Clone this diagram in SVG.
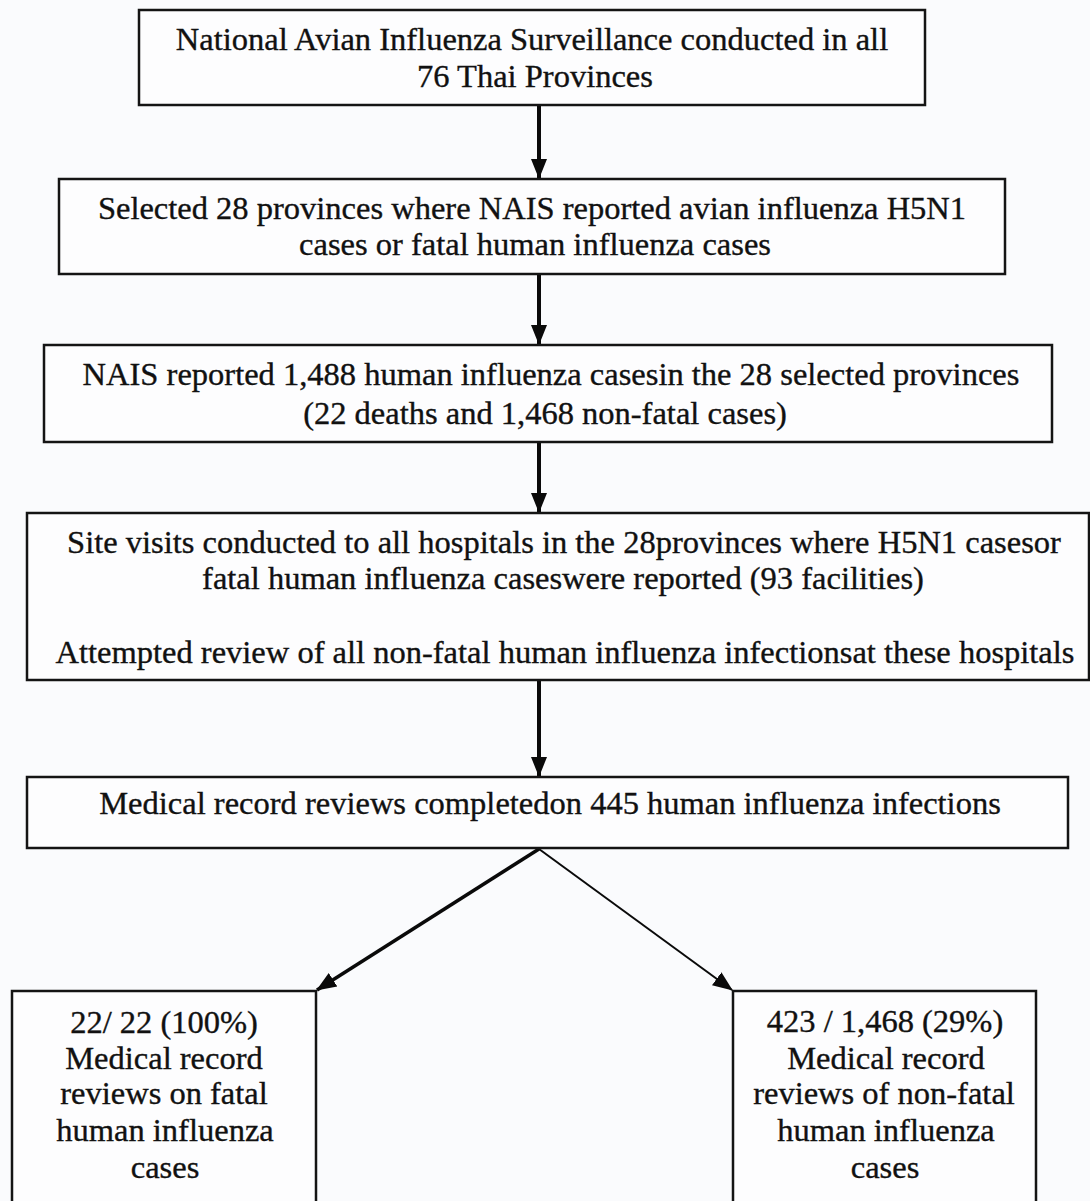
<svg xmlns="http://www.w3.org/2000/svg" width="1090" height="1201" viewBox="0 0 1090 1201">
<defs>
<style>
.box{fill:#fdfdfe;stroke:#141414;stroke-width:2.5}
.t{font-family:"Liberation Serif","Times New Roman",serif;font-size:32.5px;fill:#111;stroke:#111;stroke-width:0.35;text-anchor:middle}
.conn{stroke:#0a0a0a;fill:none}
</style>
<marker id="ah" markerUnits="userSpaceOnUse" markerWidth="20" markerHeight="18" refX="19" refY="8" orient="auto" viewBox="0 0 20 16">
<path d="M0,0 L20,8 L0,16 z" fill="#0a0a0a"/>
</marker>
</defs>
<rect x="0" y="0" width="1090" height="1201" fill="#fafbfd"/>
<g id="connectors">
<line class="conn" x1="539" y1="106" x2="539" y2="178" stroke-width="4" marker-end="url(#ah)"/>
<line class="conn" x1="539" y1="275" x2="539" y2="344" stroke-width="4" marker-end="url(#ah)"/>
<line class="conn" x1="539" y1="443" x2="539" y2="512" stroke-width="4" marker-end="url(#ah)"/>
<line class="conn" x1="539" y1="681" x2="539" y2="776" stroke-width="4" marker-end="url(#ah)"/>
<line class="conn" x1="539" y1="849" x2="317" y2="990" stroke-width="3.5" marker-end="url(#ah)"/>
<line class="conn" x1="539" y1="849" x2="732" y2="990" stroke-width="2" marker-end="url(#ah)"/>
</g>
<g id="n1">
<rect class="box" x="139" y="10" width="786" height="95"/>
<text class="t" x="532" y="50">National Avian Influenza Surveillance conducted in all</text>
<text class="t" x="535" y="87">76 Thai Provinces</text>
</g>
<g id="n2">
<rect class="box" x="59" y="179" width="946" height="95"/>
<text class="t" x="532" y="219">Selected 28 provinces where NAIS reported avian influenza H5N1</text>
<text class="t" x="535" y="255">cases or fatal human influenza cases</text>
</g>
<g id="n3">
<rect class="box" x="44" y="345" width="1008" height="97"/>
<text class="t" x="551" y="385">NAIS reported 1,488 human influenza casesin the 28 selected provinces</text>
<text class="t" x="545" y="424">(22 deaths and 1,468 non-fatal cases)</text>
</g>
<g id="n4">
<rect class="box" x="27" y="513" width="1062" height="167"/>
<text class="t" x="564" y="553">Site visits conducted to all hospitals in the 28provinces where H5N1 casesor</text>
<text class="t" x="563" y="589">fatal human influenza caseswere reported (93 facilities)</text>
<text class="t" x="565" y="663">Attempted review of all non-fatal human influenza infectionsat these hospitals</text>
</g>
<g id="n5">
<rect class="box" x="27" y="777" width="1041" height="71"/>
<text class="t" x="550" y="814">Medical record reviews completedon 445 human influenza infections</text>
</g>
<g id="n6">
<rect class="box" x="12" y="991" width="304" height="230"/>
<text class="t" x="164" y="1033">22/ 22 (100%)</text>
<text class="t" x="164" y="1069">Medical record</text>
<text class="t" x="164" y="1104">reviews on fatal</text>
<text class="t" x="165" y="1141">human influenza</text>
<text class="t" x="165" y="1178">cases</text>
</g>
<g id="n7">
<rect class="box" x="733" y="991" width="303" height="230"/>
<text class="t" x="885" y="1032">423 / 1,468 (29%)</text>
<text class="t" x="886" y="1069">Medical record</text>
<text class="t" x="884" y="1104">reviews of non-fatal</text>
<text class="t" x="886" y="1141">human influenza</text>
<text class="t" x="885" y="1178">cases</text>
</g>
</svg>
